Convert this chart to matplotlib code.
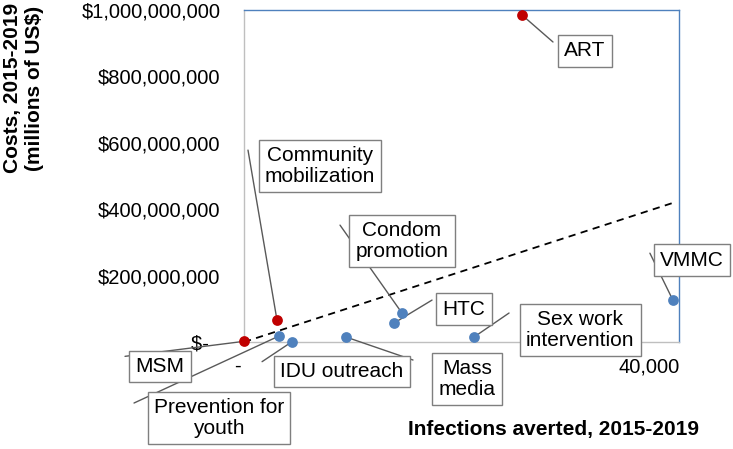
#Cost vs infections averted scatter
import numpy as np
import matplotlib
matplotlib.use('Agg')
import matplotlib.pyplot as plt

plt.rcParams['font.family'] = ['Liberation Sans', 'DejaVu Sans']

#data
names = ['MSM', 'Community\nmobilization', 'Prevention for\nyouth', 'IDU outreach',
         'Mass\nmedia', 'HTC', 'Condom\npromotion', 'Sex work\nintervention',
         'VMMC', 'ART']
averted = [0, 3260, 3460, 4750, 10080, 14830, 15620, 22740, 42400, 27480]
costs = [2e6, 66e6, 18e6, 1e6, 15e6, 57e6, 87e6, 15e6, 126e6, 985e6]
isRed = [True, True, False, False, False, False, False, False, False, True]

trendX = [0, 42400]
trendY = [0, 419e6]

yTicks = [0, 200e6, 400e6, 600e6, 800e6, 1000e6]
yTickLabels = ['$-  ', '$200,000,000', '$400,000,000', '$600,000,000',
               '$800,000,000', '$1,000,000,000']
xTicks = [0, 40000]
xTickLabels = ['-  ', '40,000']

#label layout: leader end and box centre, offsets in pixels from the point
leaderEnd = {'MSM': (-119, -15), 'Community\nmobilization': (-29, 170),
             'Prevention for\nyouth': (-145, -67), 'IDU outreach': (-30, -20),
             'Mass\nmedia': (67, -23), 'HTC': (38, 23),
             'Condom\npromotion': (-62, 88), 'Sex work\nintervention': (35, 24),
             'VMMC': (-23, 47), 'ART': (31, -27)}
boxPos = {'MSM': (-84, -25), 'Community\nmobilization': (43, 154),
          'Prevention for\nyouth': (-60, -82), 'IDU outreach': (50, -30),
          'Mass\nmedia': (121, -42), 'HTC': (70, 14),
          'Condom\npromotion': (0, 72), 'Sex work\nintervention': (106, 7),
          'VMMC': (19, 40), 'ART': (63, -36)}

fig = plt.figure(figsize=(7.33, 4.49), dpi=100)
ax = fig.add_axes([0.3329, 0.2383, 0.5934, 0.7394])

ax.plot(trendX, trendY, color='black', linestyle=(0, (4, 3)), linewidth=1.3, zorder=2)

for i, name in enumerate(names):
    col = '#C00000' if isRed[i] else '#4F81BD'
    ax.scatter(averted[i], costs[i], s=60, color=col, zorder=4, linewidths=0,
               clip_on=False)
    ax.annotate('', xy=(averted[i], costs[i]), xytext=leaderEnd[name],
                textcoords='offset pixels',
                arrowprops=dict(arrowstyle='-', color='#595959', lw=1.0,
                                shrinkA=0, shrinkB=0), zorder=3)
    ax.annotate(name, xy=(averted[i], costs[i]), xytext=boxPos[name],
                textcoords='offset pixels', ha='center', va='center',
                fontsize=15, linespacing=1.1, zorder=5,
                bbox=dict(boxstyle='square,pad=0.3', fc='white', ec='#7f7f7f', lw=1.0))

ax.set_xlim(0, 43000)
ax.set_ylim(0, 1000e6)
ax.set_xticks(xTicks)
ax.set_xticklabels(xTickLabels)
ax.set_yticks(yTicks)
ax.set_yticklabels(yTickLabels)
ax.tick_params(axis='both', length=0, labelsize=14.5, colors='black')
ax.tick_params(axis='y', pad=17)
ax.tick_params(axis='x', pad=11)

ax.spines['left'].set_color('#BFBFBF')
ax.spines['bottom'].set_color('#BFBFBF')
ax.spines['top'].set_color('#4F81BD')
ax.spines['right'].set_color('#4F81BD')
for s in ax.spines.values():
    s.set_linewidth(1.0)

fig.text(554/733, 1-430/449, 'Infections averted, 2015-2019', fontsize=15,
         fontweight='bold', ha='center', va='center')
fig.text(24/733, 1-88/449, 'Costs, 2015-2019\n(millions of US$)', fontsize=15,
         fontweight='bold', ha='center', va='center', rotation=90,
         multialignment='center', linespacing=1.2)

plt.savefig('out.png', dpi=100)
